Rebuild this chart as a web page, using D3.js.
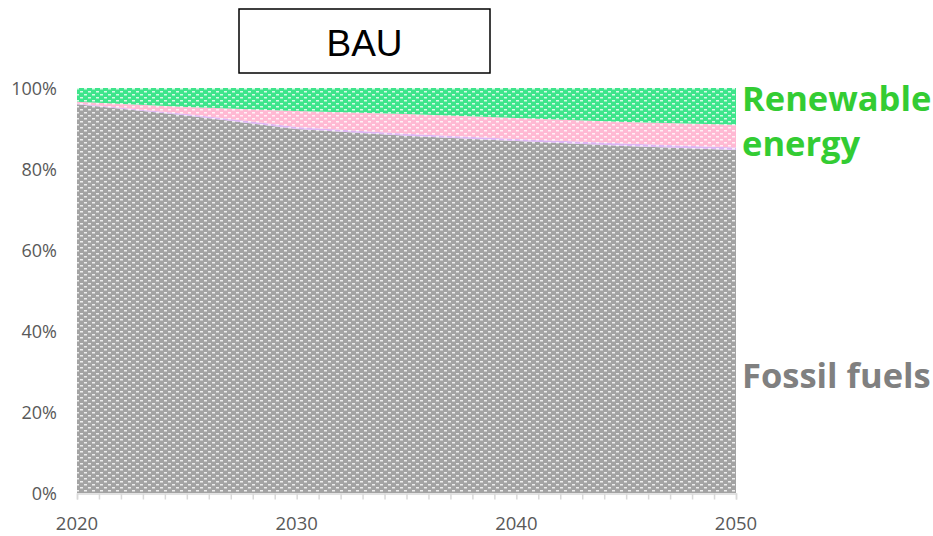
<!DOCTYPE html>
<html>
<head>
<meta charset="utf-8">
<script src="https://cdn.jsdelivr.net/npm/d3@7"></script>
<style>
  body { margin: 0; background: #fff; }
  svg { display: block; }
</style>
</head>
<body>
<div id="chart"></div>
<script>
// values (share of total, %)
const years = [2020, 2025, 2030, 2035, 2040, 2045, 2050];
const fossilFuels = [96.0, 93.2, 89.9, 88.2, 86.9, 85.7, 84.7];
const otherLavender = [0.2, 0.4, 0.5, 0.5, 0.5, 0.6, 0.6];
const otherPink = [0.4, 1.7, 3.9, 4.9, 5.2, 5.3, 5.6];
const renewable = [3.4, 4.7, 5.7, 6.4, 7.4, 8.4, 9.1];
const yTicks = [0, 20, 40, 60, 80, 100];
const xTicks = [2020, 2030, 2040, 2050];
const title = 'BAU';

const width = 933, height = 536;
const plot = { left: 77, right: 736, top: 88, bottom: 493 };

const svg = d3.select('#chart').append('svg')
    .attr('width', width)
    .attr('height', height);

// scales
const x = d3.scaleLinear().domain([2020, 2050]).range([plot.left, plot.right]);
const y = d3.scaleLinear().domain([0, 100]).range([plot.bottom, plot.top]);

// patterns: coloured base with small white dashes in a brick layout
const defs = svg.append('defs');
function makePattern(id, base) {
    const p = defs.append('pattern')
        .attr('id', id)
        .attr('patternUnits', 'userSpaceOnUse')
        .attr('width', 8).attr('height', 6);
    p.append('rect').attr('width', 8).attr('height', 6).attr('fill', base);
    p.append('rect').attr('x', 0).attr('y', 1).attr('width', 3).attr('height', 1.5)
        .attr('fill', '#fff').attr('opacity', 0.8);
    p.append('rect').attr('x', 4).attr('y', 4).attr('width', 3).attr('height', 1.5)
        .attr('fill', '#fff').attr('opacity', 0.8);
}
makePattern('pat-fossil', '#a3a3a3');
makePattern('pat-lav', '#dcb4f2');
makePattern('pat-pink', '#ffb9d3');
makePattern('pat-green', '#3ee58b');

// stacked data
const rows = years.map((yr, i) => ({
    year: yr,
    fossil: fossilFuels[i],
    lav: otherLavender[i],
    pink: otherPink[i],
    green: renewable[i]
}));
const keys = ['fossil', 'lav', 'pink', 'green'];
const fills = { fossil: 'url(#pat-fossil)', lav: 'url(#pat-lav)', pink: 'url(#pat-pink)', green: 'url(#pat-green)' };
const series = d3.stack().keys(keys)(rows);

const area = d3.area()
    .x(d => x(d.data.year))
    .y0(d => y(d[0]))
    .y1(d => y(d[1]));

svg.append('g').selectAll('path')
    .data(series)
    .join('path')
    .attr('d', area)
    .attr('fill', d => fills[d.key]);

// x axis: line + yearly ticks
const xAxis = d3.axisBottom(x)
    .tickValues(d3.range(2020, 2051, 1))
    .tickSize(6)
    .tickFormat('');
const gx = svg.append('g')
    .attr('transform', 'translate(0,' + (plot.bottom + 0.5) + ')')
    .call(xAxis);
gx.select('.domain').attr('stroke', '#d9d9d9').attr('stroke-width', 1.5);
gx.selectAll('.tick line').attr('stroke', '#d9d9d9').attr('stroke-width', 1.5);

const tickFont = 'Open Sans, Noto Sans, sans-serif';
svg.append('g').selectAll('text')
    .data(xTicks)
    .join('text')
    .attr('x', d => x(d))
    .attr('y', 530)
    .attr('text-anchor', 'middle')
    .attr('font-family', tickFont)
    .attr('font-size', 18.5)
    .attr('fill', '#595959')
    .text(d => d);

// y tick labels
svg.append('g').selectAll('text')
    .data(yTicks)
    .join('text')
    .attr('x', 57)
    .attr('y', d => y(d) + 6.5)
    .attr('text-anchor', 'end')
    .attr('font-family', tickFont)
    .attr('font-size', 18)
    .attr('fill', '#595959')
    .text(d => d + '%');

// title box
svg.append('rect')
    .attr('x', 239).attr('y', 9)
    .attr('width', 251).attr('height', 64)
    .attr('fill', '#fff')
    .attr('stroke', '#000')
    .attr('stroke-width', 1.5);
svg.append('text')
    .attr('x', 364.5).attr('y', 56)
    .attr('text-anchor', 'middle')
    .attr('font-family', 'Liberation Sans, Arial, sans-serif')
    .attr('font-size', 37)
    .attr('fill', '#000')
    .text(title);

// series labels
const labelFont = 'Open Sans, Noto Sans, sans-serif';
svg.append('text')
    .attr('x', 742).attr('y', 111)
    .attr('font-family', labelFont)
    .attr('font-weight', 'bold')
    .attr('font-size', 34.5)
    .attr('fill', '#33cc33')
    .text('Renewable');
svg.append('text')
    .attr('x', 742).attr('y', 156)
    .attr('font-family', labelFont)
    .attr('font-weight', 'bold')
    .attr('font-size', 34.5)
    .attr('fill', '#33cc33')
    .text('energy');
svg.append('text')
    .attr('x', 742).attr('y', 388)
    .attr('font-family', labelFont)
    .attr('font-weight', 'bold')
    .attr('font-size', 34.5)
    .attr('fill', '#808080')
    .text('Fossil fuels');
</script>
</body>
</html>
